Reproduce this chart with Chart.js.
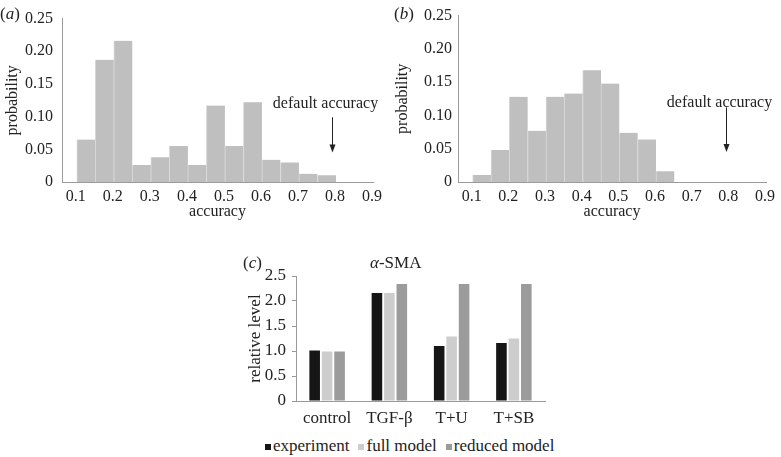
<!DOCTYPE html>
<html><head><meta charset="utf-8">
<script src="https://cdn.jsdelivr.net/npm/chart.js@4"></script>
<style>
body{margin:0;background:#fff;}
#wrap{position:relative;width:781px;height:457px;overflow:hidden;font-family:'Liberation Serif','Times New Roman',serif;color:#222;background:#fff;}
canvas{position:absolute;}
.t{position:absolute;font-size:17px;line-height:17px;white-space:nowrap;}
#legend{position:absolute;left:265px;top:437px;display:flex;align-items:center;gap:9px;font-size:17px;line-height:17px;white-space:nowrap;}
#legend .it{display:flex;align-items:center;}
#legend .bx{display:inline-block;width:6px;height:6px;margin-right:2px;margin-top:3px;}
</style></head><body>
<div id="wrap">
<canvas id="ca" width="390" height="225" style="left:0;top:0"></canvas>
<canvas id="cb" width="391" height="225" style="left:390px;top:0"></canvas>
<canvas id="cc" width="330" height="195" style="left:240px;top:240px"></canvas>
<div class="t" style="left:0;top:5px">(<i>a</i>)</div>
<div class="t" style="left:394px;top:5px">(<i>b</i>)</div>
<div class="t" style="left:243px;top:254px">(<i>c</i>)</div>
<div class="t" style="left:370px;top:254px"><i>α</i>-SMA</div>
<div id="legend"></div>
</div>
<script>
// ---- data ----
const binWidth = 0.05;
const binStarts = [0.10,0.15,0.20,0.25,0.30,0.35,0.40,0.45,0.50,0.55,0.60,0.65,0.70,0.75,0.80,0.85];
const probA = [0.065,0.187,0.216,0.026,0.038,0.055,0.026,0.117,0.055,0.122,0.034,0.030,0.0125,0.0105,0,0];
const probB = [0.0105,0.048,0.128,0.077,0.128,0.133,0.168,0.148,0.074,0.064,0.016,0,0,0,0,0];
const accuracyTicks = [0.1,0.2,0.3,0.4,0.5,0.6,0.7,0.8,0.9];
const probabilityTicks = [0,0.05,0.10,0.15,0.20,0.25];
const defaultAccuracy = 0.79;
const defaultLabel = 'default accuracy';

const groups = ['control','TGF-β','T+U','T+SB'];
const experiment = [1.01,2.16,1.10,1.16];
const fullModel = [0.99,2.16,1.29,1.25];
const reducedModel = [0.99,2.34,2.34,2.34];
const levelTicks = [0,0.5,1.0,1.5,2.0,2.5];
const seriesNames = ['experiment','full model','reduced model'];
const seriesColors = ['#161616','#cdcdcd','#9b9b9b'];

// ---- setup ----
const FONT = "'Liberation Serif', 'Times New Roman', serif";
Chart.defaults.font.family = FONT;
Chart.defaults.color = '#222';
Chart.defaults.animation = false;
const AXIS = '#9a9a9a';

const markerPlugin = {
  id: 'defaultMarker',
  afterDatasetsDraw(chart, args, o) {
    if (!o || o.x === undefined) return;
    const {ctx} = chart; const xs = chart.scales.x, ys = chart.scales.y;
    const px = Math.round(xs.getPixelForValue(o.x)) + 0.5;
    const yTop = ys.getPixelForValue(o.top), yTip = ys.getPixelForValue(o.tip), yLab = ys.getPixelForValue(o.labelY);
    ctx.save();
    ctx.strokeStyle = '#222'; ctx.fillStyle = '#222'; ctx.lineWidth = 1;
    ctx.beginPath(); ctx.moveTo(px, yTop); ctx.lineTo(px, yTip - 6); ctx.stroke();
    ctx.beginPath(); ctx.moveTo(px - 3, yTip - 8); ctx.lineTo(px + 3, yTip - 8); ctx.lineTo(px, yTip); ctx.closePath(); ctx.fill();
    ctx.font = '16px ' + FONT; ctx.textAlign = 'center'; ctx.textBaseline = 'middle';
    ctx.fillText(o.text, px + o.dx, yLab);
    ctx.restore();
  }
};

function histChart(id, probs, o) {
  return new Chart(document.getElementById(id), {
    type: 'bar',
    data: { datasets: [{
      data: binStarts.map((s, i) => ({x: s + binWidth / 2, y: probs[i]})),
      backgroundColor: '#bfbfbf', borderColor: '#d8d8d8',
      borderWidth: {left: 1, right: 0, top: 0, bottom: 0},
      barPercentage: 1, categoryPercentage: 1
    }]},
    options: {
      responsive: false, animation: false,
      layout: {padding: {left: 0, top: 15, right: o.padRight, bottom: 0}},
      plugins: {
        legend: {display: false}, tooltip: {enabled: false},
        defaultMarker: {x: defaultAccuracy, top: o.arrowTop, tip: 0.045, labelY: 0.119, dx: -7, text: defaultLabel}
      },
      scales: {
        x: {
          type: 'linear', offset: false, min: 0.06, max: 0.9,
          grid: {display: false, drawTicks: false}, border: {color: AXIS},
          afterBuildTicks: s => { s.ticks = accuracyTicks.map(v => ({value: v})); },
          ticks: {font: {size: 16}, padding: 5, labelOffset: -1, maxRotation: 0, autoSkip: false, callback: v => v.toFixed(1)},
          title: {display: true, text: 'accuracy', font: {size: 16}, padding: {top: 0, bottom: 4}},
          afterFit: s => { s.height = 43; }
        },
        y: {
          min: 0, max: 0.25,
          grid: {display: false, drawTicks: false}, border: {color: AXIS},
          afterBuildTicks: s => { s.ticks = probabilityTicks.map(v => ({value: v})); },
          ticks: {font: {size: 16}, padding: o.yPad, callback: v => v === 0 ? '0' : v.toFixed(2)},
          title: {display: true, text: 'probability', font: {size: 16}, padding: {top: 3, bottom: 0}},
          afterFit: s => { s.width = o.yWidth; }
        }
      }
    },
    plugins: [markerPlugin]
  });
}

histChart('ca', probA, {padRight: 17, yWidth: 62, yPad: 9, arrowTop: 0.099});
histChart('cb', probB, {padRight: 10, yWidth: 68, yPad: 6, arrowTop: 0.112});

const seriesData = [experiment, fullModel, reducedModel];
new Chart(document.getElementById('cc'), {
  type: 'bar',
  data: {labels: groups, datasets: seriesNames.map((n, i) => ({label: n, data: seriesData[i], backgroundColor: seriesColors[i]}))},
  options: {
    responsive: false, animation: false,
    datasets: {bar: {categoryPercentage: 0.6, barPercentage: 0.85}},
    layout: {padding: {left: 0, top: 36, right: 25, bottom: 0}},
    plugins: {legend: {display: false}, tooltip: {enabled: false}},
    scales: {
      x: {
        grid: {display: false, drawTicks: false}, border: {color: AXIS},
        ticks: {font: {size: 17}, padding: 7},
        afterFit: s => { s.height = 34; }
      },
      y: {
        min: 0, max: 2.5,
        afterBuildTicks: s => { s.ticks = levelTicks.map(v => ({value: v})); },
        grid: {display: true, drawOnChartArea: false, drawTicks: true, tickLength: 4, color: AXIS},
        border: {color: AXIS},
        ticks: {font: {size: 17}, padding: 6, callback: v => v === 0 ? '0' : v.toFixed(1)},
        title: {display: true, text: 'relative level', font: {size: 17}, padding: {top: 5, bottom: 0}},
        afterFit: s => { s.width = 56; }
      }
    }
  }
});

const lg = document.getElementById('legend');
seriesNames.forEach((n, i) => {
  const it = document.createElement('span'); it.className = 'it';
  const bx = document.createElement('span'); bx.className = 'bx'; bx.style.background = seriesColors[i];
  it.appendChild(bx); it.appendChild(document.createTextNode(n));
  lg.appendChild(it);
});
</script>
</body></html>
